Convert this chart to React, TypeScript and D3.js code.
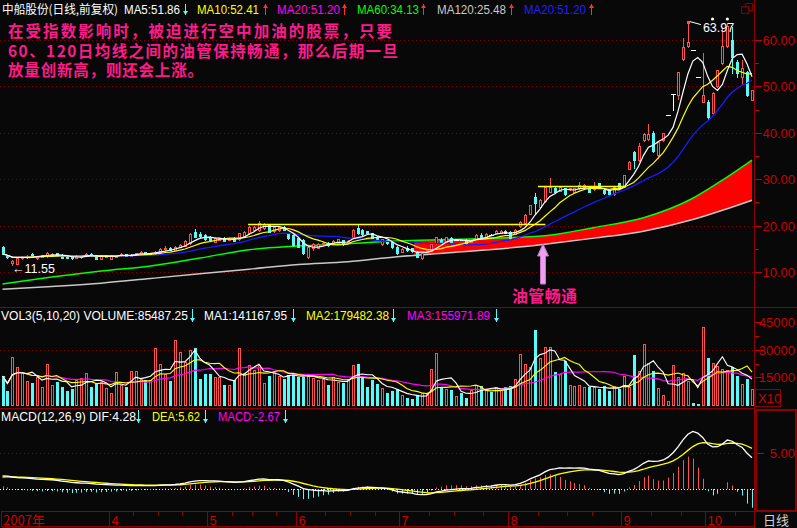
import React from 'react';
import * as d3 from 'd3';

const opens = [15.4,13.5,11.9,11.8,13.0,13.2,13.8,13.0,13.3,13.4,13.6,14.0,13.7,13.2,13.2,13.1,13.2,13.5,13.9,13.6,12.9,13.4,12.8,13.4,13.6,13.8,13.5,13.7,13.9,14.3,13.9,14.0,14.3,14.9,15.2,14.8,15.4,15.7,16.2,18.55,18.2,18.0,17.6,16.5,16.9,17.4,17.0,17.4,17.1,17.8,18.3,19.05,19.05,19.4,20.1,18.8,19.05,19.8,18.3,18.0,17.3,16.9,13.3,15.1,15.25,16.0,16.3,16.2,16.3,16.9,16.5,17.6,19.4,19.05,18.8,18.3,17.6,16.0,16.9,16.5,15.45,14.4,15.25,15.1,14.4,13.1,14.6,14.6,16.2,17.0,16.5,17.4,17.0,17.0,17.0,16.5,17.2,18.0,17.6,18.0,18.5,18.5,18.9,18.7,18.2,19.9,20.5,22.6,26.2,24.1,25.2,27.3,28.0,27.5,28.0,27.8,27.3,28.0,28.3,28.0,27.8,29.1,27.7,27.7,26.8,29.1,28.4,32.3,35.9,34.1,38.4,38.7,40.0,35.2,38.4,43.9,48.3,48.1,55.8,58.6,57.8,52.1,46.7,46.7,44.2,50.0,55.0,58.6,60.0,55.3,52.1,53.2,47.1];
const highs = [15.5,13.6,12.6,13.2,13.5,13.7,14.1,13.4,13.7,14.3,14.0,14.2,13.8,13.3,13.3,13.6,13.5,14.0,14.1,13.7,13.6,13.6,13.7,13.6,14.0,13.9,13.8,14.2,14.6,14.4,14.1,14.5,15.1,15.6,15.3,15.5,16.0,16.8,18.3,19.3,18.7,18.2,17.8,17.5,17.4,17.5,17.2,17.5,18.4,18.8,19.9,20.0,21.0,20.5,20.3,19.9,19.9,20.0,18.5,18.2,17.5,17.1,15.6,16.3,16.2,16.4,16.4,16.9,17.2,17.0,16.8,19.2,20.3,19.2,18.9,18.4,17.7,17.1,17.0,16.6,15.5,15.1,15.5,15.2,14.5,14.1,14.9,16.1,17.6,17.3,17.6,17.5,17.2,17.1,17.1,17.1,18.1,18.3,18.3,18.2,19.0,19.0,19.0,18.8,19.2,20.9,22.4,24.5,27.0,25.7,28.5,30.2,28.3,28.5,28.1,28.1,28.1,29.5,28.9,28.2,29.5,29.2,27.8,27.8,28.5,29.2,31.0,33.9,36.0,37.9,40.0,42.0,40.3,38.2,40.0,43.9,48.3,53.2,60.4,63.97,57.8,52.1,57.2,47.0,48.7,53.6,62.5,63.6,62.9,55.6,55.6,53.4,49.3];
const lows = [13.9,13.1,11.55,11.7,12.9,13.1,13.2,12.8,13.2,13.3,13.5,13.5,13.0,13.0,12.9,13.0,13.1,13.4,13.5,12.8,12.8,13.3,12.7,13.3,13.5,13.4,13.4,13.6,13.8,13.7,13.8,13.9,14.2,14.8,14.7,14.7,15.3,15.6,16.1,17.5,17.6,17.0,16.8,16.4,16.8,16.6,16.9,16.6,17.0,17.7,18.2,18.9,18.9,19.2,18.6,18.7,18.9,19.0,17.2,15.7,15.3,13.9,13.0,14.8,15.1,15.9,15.7,16.1,16.2,15.9,16.4,17.5,18.2,18.0,18.2,17.3,16.8,15.9,16.1,15.2,13.9,14.3,14.6,14.4,13.2,12.8,14.4,14.5,16.1,16.4,16.4,16.4,16.8,16.8,16.1,16.4,17.1,17.5,17.5,17.9,18.4,18.3,18.4,17.2,18.1,19.8,20.4,22.5,22.6,24.0,25.0,27.2,27.2,27.4,26.7,27.7,27.2,27.9,28.2,27.2,27.7,28.2,26.9,26.7,26.7,27.9,28.3,32.2,32.5,34.0,38.2,38.4,35.8,34.6,38.2,43.9,44.9,47.2,55.6,58.5,57.8,52.1,46.7,43.0,44.0,49.8,54.8,58.4,52.8,52.0,50.5,48.0,47.0];
const closes = [13.9,13.3,12.4,13.0,13.3,13.5,13.4,13.3,13.6,14.0,13.9,13.6,13.1,13.1,13.0,13.5,13.4,13.9,13.6,12.9,13.5,13.5,13.6,13.5,13.9,13.5,13.7,14.1,14.4,13.8,14.0,14.4,15.0,15.2,14.8,15.4,15.9,16.7,18.2,17.6,17.8,17.1,16.9,17.4,17.3,16.7,17.1,16.7,18.3,18.7,19.8,19.8,20.5,20.3,18.7,19.8,19.8,19.05,17.3,15.8,15.45,14.0,15.45,16.0,16.0,16.3,15.8,16.75,17.05,16.0,16.7,19.05,18.3,18.1,18.3,17.4,16.9,17.05,16.2,15.3,14.0,15.0,14.7,14.5,13.3,14.0,14.75,16.0,17.5,16.5,17.5,16.5,17.0,16.9,16.2,17.0,18.0,17.6,18.2,18.0,18.9,18.9,18.5,17.3,19.1,20.8,22.3,24.4,24.8,25.5,28.4,28.4,27.3,28.25,26.8,28.0,28.0,28.75,28.75,27.3,28.4,28.3,27.0,26.8,28.4,28.0,30.9,33.8,34.1,37.2,39.7,39.7,36.0,38.0,39.9,43.9,48.3,53.2,58.4,59.6,57.8,52.1,48.1,43.5,48.5,53.5,58.6,63.0,56.4,52.8,53.9,48.1,49.2];
const volumes = [15700,7750,25800,20800,17500,13200,11800,15300,9600,22200,10800,12600,9600,7800,8500,13500,14500,17500,9600,11800,12600,9000,6300,18000,10800,9600,18600,18600,13900,13500,13500,30700,22200,16800,13200,35200,28900,23500,29800,31100,13900,16800,16800,15300,15000,10800,10800,13500,30700,17500,21700,19000,21700,12100,15700,18000,15700,13900,16300,17500,15300,15300,15700,14500,13500,13900,10800,15000,12600,11800,13900,21700,22200,14500,9900,13500,11400,9000,6300,7750,8500,5400,3600,3100,5400,6300,6300,19300,28000,9600,8500,8100,4900,6300,4000,8100,10800,10300,8500,7200,9600,8100,9600,10300,13900,27600,22200,20800,40700,25300,31300,31300,18000,16800,23800,10800,10300,10800,9600,9600,9600,8500,10300,7750,10300,8500,15700,9600,27100,18600,33100,22600,18400,9000,5400,2300,21700,15000,17500,13200,900,500,42400,25300,22900,21100,19300,19000,20800,15700,11400,13900,8500];

// MA60 / MA120 at these candle indices (their history starts before the window)
const maSampleIdx = [0,10,20,30,40,50,60,70,80,90,100,110,120,130,140,146,152];
const ma60Samples = [7.4,8.9,10.2,11.3,13.0,14.8,15.6,16.1,16.7,17.0,17.3,17.8,19.6,21.7,25.9,29.8,34.13];
const ma120Samples = [6.3,6.9,7.6,8.6,9.6,10.6,11.6,12.2,13.3,14.1,14.9,16.0,17.3,18.8,21.3,23.3,25.48];
const pipeStartIdx = 84;

// MACD state just before the first candle (read from the start of the DIF/DEA lines)
const ema12Seed = 11.8;
const ema26Seed = 10.0;
const deaSeed = 1.6;

const priceTicks = [10, 20, 30, 40, 50, 60];
const priceMinorTicks = [15, 25, 35, 45, 55];
const volTicks = [15000, 30000, 45000];
const volMinorTicks = [22500, 37500];
const macdTicks = [5];

const monthIdx = [22, 42, 60, 81, 103, 126, 143];
const monthLabels = ['4', '5', '6', '7', '8', '9', '10'];
const weekTickIdx = [27, 32, 37, 47, 51, 56, 66, 71, 76, 87, 92, 98, 109, 115, 120, 132, 138, 149];

// horizontal annotation lines: [fromIdx, toIdx, price]
const resistanceLines = [[49.8, 110.1, 20.3], [108.6, 126.3, 28.5]];
const dotMarkerIdx = [144, 147];
const lowIdx = 2;
const highIdx = 139;

const noteLines = [
  '在受指数影响时，被迫进行空中加油的股票，只要',
  '60、120日均线之间的油管保持畅通，那么后期一旦',
  '放量创新高，则还会上涨。',
];
const noteWidths = [384, 390, 195];
const pipeLabel = '油管畅通';

const RED = '#ff5050';
const CYAN = '#54fcfc';
const AXIS = '#8b0000';
const LABEL = '#c80000';
const PINK = '#ff1a8c';
const NUMF = '"Liberation Sans", Arial, sans-serif';
const CJKF = '"Noto Sans CJK SC", "Liberation Sans", sans-serif';

function ma(arr: number[], n: number) {
  return arr.map((_, i) => d3.mean(arr.slice(Math.max(0, i - n + 1), i + 1)) as number);
}

function Arrow({ x, y0, y1, color, down }: { x: number; y0: number; y1: number; color: string; down: boolean }) {
  const tip = down ? y1 : y0;
  const base = down ? y1 - 4 : y0 + 4;
  return (
    <g>
      <line x1={x + 0.5} x2={x + 0.5} y1={y0} y2={y1} stroke={color} strokeWidth={1} />
      <path d={`M${x - 2},${base} L${x + 3},${base} L${x + 0.5},${tip} Z`} fill={color} />
    </g>
  );
}

export default function App() {
  const N = closes.length;
  const x = d3.scaleLinear().domain([0, N - 1]).range([2.5, 752]);
  const step = x(1) - x(0);
  const yP = d3.scaleLinear().domain([10, 60]).range([272, 40]);
  const yV = d3.scaleLinear().domain([0, 45000]).range([405, 322]);
  const yM = d3.scaleLinear().domain([0, 5]).range([489, 453]);

  const ma5 = ma(closes, 5), ma10 = ma(closes, 10), ma20 = ma(closes, 20);
  const vma5 = ma(volumes, 5), vma10 = ma(volumes, 10), vma20 = ma(volumes, 20);

  let e12 = ema12Seed, e26 = ema26Seed, dea = deaSeed;
  const difArr: number[] = [], deaArr: number[] = [], histArr: number[] = [];
  closes.forEach((c) => {
    e12 = (2 * c + 11 * e12) / 13;
    e26 = (2 * c + 25 * e26) / 27;
    const d = e12 - e26;
    dea = (2 * d + 8 * dea) / 10;
    difArr.push(d);
    deaArr.push(dea);
    histArr.push(2 * (d - dea));
  });

  const lineOf = (vals: number[], ys: d3.ScaleLinear<number, number>) =>
    d3.line<number>().x((_, i) => x(i)).y((v) => ys(v))(vals) || '';
  const sampledLine = (vals: number[]) =>
    d3.line<number>().x((_, k) => x(maSampleIdx[k])).y((v) => yP(v)).curve(d3.curveMonotoneX)(vals) || '';
  const pipeArea =
    d3.area<number>()
      .x((_, k) => x(maSampleIdx[k]))
      .y0((_, k) => yP(ma120Samples[k]))
      .y1((v) => yP(v))
      .curve(d3.curveMonotoneX)(ma60Samples) || '';

  const candleColor = (i: number) => (closes[i] > opens[i] ? RED : closes[i] < opens[i] ? CYAN : '#ffffff');
  const volColor = (i: number) => {
    if (closes[i] > opens[i]) return RED;
    if (closes[i] < opens[i]) return CYAN;
    return i > 0 && closes[i] >= closes[i - 1] ? RED : CYAN;
  };

  const candles = closes.map((c, i) => {
    const o = opens[i], h = highs[i], l = lows[i];
    const cx = Math.round(x(i));
    const col = candleColor(i);
    const top = Math.round(yP(Math.max(o, c)));
    const bot = Math.round(yP(Math.min(o, c)));
    const yh = Math.round(yP(h)), yl = Math.round(yP(l));
    if (c === o) {
      return (
        <g key={i}>
          <line x1={cx + 0.5} x2={cx + 0.5} y1={yh} y2={yl + 1} stroke={col} />
          <line x1={cx - 2} x2={cx + 3} y1={top + 0.5} y2={top + 0.5} stroke={col} />
        </g>
      );
    }
    if (c > o) {
      return (
        <g key={i}>
          <line x1={cx + 0.5} x2={cx + 0.5} y1={yh} y2={top} stroke={col} />
          <line x1={cx + 0.5} x2={cx + 0.5} y1={bot} y2={yl + 1} stroke={col} />
          <rect x={cx - 0.5} y={top + 0.5} width={2} height={Math.max(1, bot - top)} fill="#080808" stroke={col} />
        </g>
      );
    }
    return (
      <g key={i}>
        <line x1={cx + 0.5} x2={cx + 0.5} y1={yh} y2={yl + 1} stroke={col} />
        <rect x={cx - 1} y={top} width={3} height={Math.max(1, bot - top + 1)} fill={col} />
      </g>
    );
  });

  const volBars = volumes.map((v, i) => {
    const cx = Math.round(x(i));
    const col = volColor(i);
    const top = Math.round(yV(v));
    const bot = 406;
    if (col === RED) {
      return <rect key={i} x={cx - 0.5} y={top + 0.5} width={2} height={Math.max(1, bot - top - 1)} fill="none" stroke={col} />;
    }
    return <rect key={i} x={cx - 1} y={top} width={3} height={Math.max(1, bot - top)} fill={col} />;
  });

  const histBars = histArr.map((m, i) => {
    const cx = Math.round(x(i)) + 0.5;
    return <line key={i} x1={cx} x2={cx} y1={yM(0)} y2={yM(m)} stroke={m >= 0 ? RED : CYAN} strokeWidth={1} />;
  });

  const sepX = (idx: number) => Math.round(x(idx) - step / 2) + 0.5;

  const titleSeg = (t: string, xx: number, w: number, col: string, y: number, key: string) => (
    <text key={key} x={xx} y={y} fill={col} fontSize={12} fontFamily={NUMF} textLength={w} lengthAdjust="spacingAndGlyphs">
      {t}
    </text>
  );

  return (
    <svg width={797} height={528} style={{ position: 'absolute', left: 0, top: 0, display: 'block' }}>
      <defs>
        <clipPath id="cpPrice"><rect x={0} y={0} width={754} height={307} /></clipPath>
        <clipPath id="cpVol"><rect x={0} y={308} width={754} height={100} /></clipPath>
        <clipPath id="cpMacd"><rect x={0} y={409} width={754} height={102} /></clipPath>
        <clipPath id="cpPipe"><rect x={x(pipeStartIdx) - step / 2} y={0} width={754} height={307} /></clipPath>
      </defs>
      <rect x={0} y={0} width={797} height={528} fill="#080808" />

      {/* grid */}
      {priceTicks.map((t) => (
        <line key={'pg' + t} x1={0} x2={754} y1={Math.round(yP(t)) + 0.5} y2={Math.round(yP(t)) + 0.5} stroke="#800000" strokeDasharray="1,3" />
      ))}
      <line x1={0} x2={754} y1={Math.round(yV(30000)) + 0.5} y2={Math.round(yV(30000)) + 0.5} stroke="#800000" strokeDasharray="1,3" />
      {macdTicks.map((t) => (
        <line key={'mg' + t} x1={0} x2={754} y1={Math.round(yM(t)) + 0.5} y2={Math.round(yM(t)) + 0.5} stroke="#800000" strokeDasharray="1,3" />
      ))}

      {/* price panel */}
      <g clipPath="url(#cpPrice)">
        <path d={pipeArea} fill="#ff0000" clipPath="url(#cpPipe)" />
        <path d={sampledLine(ma120Samples)} fill="none" stroke="#c8c8c8" strokeWidth={1.5} />
        <path d={sampledLine(ma60Samples)} fill="none" stroke="#00ff00" strokeWidth={1.5} />
        {candles}
        <path d={lineOf(ma20, yP)} fill="none" stroke="#1a1aff" strokeWidth={1.3} />
        <path d={lineOf(ma10, yP)} fill="none" stroke="#ffff00" strokeWidth={1.2} />
        <path d={lineOf(ma5, yP)} fill="none" stroke="#ffffff" strokeWidth={1.2} />
        {resistanceLines.map(([a, b, p], k) => (
          <line key={'rl' + k} x1={x(a)} x2={x(b)} y1={Math.round(yP(p)) + 0.5} y2={Math.round(yP(p)) + 0.5} stroke="#ffff00" strokeWidth={1.5} />
        ))}
      </g>

      {/* markers */}
      {dotMarkerIdx.map((i) => (
        <circle key={'dm' + i} cx={x(i)} cy={19} r={1.6} fill="#ffffff" />
      ))}
      <rect x={Math.round(x(highIdx)) - 1} y={Math.round(yP(highs[highIdx])) - 1} width={3} height={3} fill={RED} />
      <line x1={x(highIdx) + 2} y1={yP(highs[highIdx])} x2={x(highIdx) + 13} y2={yP(highs[highIdx]) + 3} stroke="#ffffff" />
      <text x={x(highIdx) + 15} y={32} fill="#ffffff" fontSize={12.5} fontFamily={NUMF}>{highs[highIdx].toFixed(2)}</text>
      <text x={12} y={273} fill="#ffffff" fontSize={12.5} fontFamily={NUMF}>←{lows[lowIdx].toFixed(2)}</text>

      {/* title */}
      <text x={2} y={14} fill="#ffffff" fontSize={12} fontFamily={CJKF} textLength={116} lengthAdjust="spacingAndGlyphs">中船股份(日线,前复权)</text>
      {titleSeg('MA5:51.86', 124, 56, '#ffffff', 14, 't1')}
      <Arrow x={185} y0={4} y1={15} color={CYAN} down />
      {titleSeg('MA10:52.41', 197, 62, '#ffff00', 14, 't2')}
      <Arrow x={265} y0={4} y1={15} color="#ff3030" down={false} />
      {titleSeg('MA20:51.20', 277, 63, '#ff00ff', 14, 't3')}
      <Arrow x={344} y0={4} y1={15} color="#ff3030" down={false} />
      {titleSeg('MA60:34.13', 357, 62, '#00ff00', 14, 't4')}
      <Arrow x={423} y0={4} y1={15} color="#ff3030" down={false} />
      {titleSeg('MA120:25.48', 437, 69, '#c8c8c8', 14, 't5')}
      <Arrow x={511} y0={4} y1={15} color="#ff3030" down={false} />
      {titleSeg('MA20:51.20', 524, 62, '#2020ff', 14, 't6')}
      <Arrow x={591} y0={4} y1={15} color="#ff3030" down={false} />
      <rect x={745.5} y={3.5} width={7} height={7} fill="none" stroke="#800000" />
      <rect x={741.5} y={6.5} width={7} height={7} fill="#080808" stroke="#800000" />

      {/* notes */}
      {noteLines.map((t, k) => (
        <text key={'n' + k} x={8} y={37 + k * 19.5} fill={PINK} fontSize={15.5} fontWeight="bold" fontFamily={CJKF}
          textLength={noteWidths[k]} lengthAdjust="spacing">
          {t}
        </text>
      ))}
      <path d="M543,244 L548.5,256 L545.5,256 L545.5,284 L540.5,284 L540.5,256 L537.5,256 Z" fill="#e9a3e9" stroke="#d070d0" strokeWidth={1} />
      <text x={512} y={302} fill={PINK} fontSize={16} fontWeight="bold" fontFamily={CJKF} textLength={65} lengthAdjust="spacing">{pipeLabel}</text>

      {/* volume panel */}
      <line x1={0} x2={797} y1={307.5} y2={307.5} stroke={AXIS} />
      {titleSeg('VOL3(5,10,20) VOLUME:85487.25', 1, 187, '#ffffff', 320, 'v1')}
      <Arrow x={192} y0={309} y1={322} color={CYAN} down />
      {titleSeg('MA1:141167.95', 204, 83, '#ffffff', 320, 'v2')}
      <Arrow x={293} y0={309} y1={322} color={CYAN} down />
      {titleSeg('MA2:179482.38', 306, 83, '#ffff00', 320, 'v3')}
      <Arrow x={393} y0={309} y1={322} color={CYAN} down />
      {titleSeg('MA3:155971.89', 407, 83, '#ff00ff', 320, 'v4')}
      <Arrow x={496} y0={309} y1={322} color={CYAN} down />
      <g clipPath="url(#cpVol)">
        {volBars}
        <path d={lineOf(vma20, yV)} fill="none" stroke="#ff00ff" strokeWidth={1.2} />
        <path d={lineOf(vma10, yV)} fill="none" stroke="#ffff00" strokeWidth={1.1} />
        <path d={lineOf(vma5, yV)} fill="none" stroke="#ffffff" strokeWidth={1.1} />
      </g>
      <line x1={0} x2={754} y1={408.5} y2={408.5} stroke={AXIS} />
      <rect x={755.5} y={389.5} width={25} height={17} fill="none" stroke={AXIS} />
      <text x={758} y={403} fill={LABEL} fontSize={13} fontFamily={NUMF}>X10</text>

      {/* macd panel */}
      {titleSeg('MACD(12,26,9) DIF:4.28', 1, 135, '#ffffff', 421, 'm1')}
      <Arrow x={138} y0={410} y1={423} color={CYAN} down />
      {titleSeg('DEA:5.62', 152, 48, '#ffff00', 421, 'm2')}
      <Arrow x={205} y0={410} y1={423} color={CYAN} down />
      {titleSeg('MACD:-2.67', 218, 62, '#ff00ff', 421, 'm3')}
      <Arrow x={285} y0={410} y1={423} color={CYAN} down />
      <g clipPath="url(#cpMacd)">
        <line x1={0} x2={754} y1={489.5} y2={489.5} stroke="#ffffff" strokeDasharray="1,2" />
        {histBars}
        <path d={lineOf(deaArr, yM)} fill="none" stroke="#ffff00" strokeWidth={1.3} />
        <path d={lineOf(difArr, yM)} fill="none" stroke="#ffffff" strokeWidth={1.3} />
      </g>
      <rect x={756} y={410} width={40} height={101} fill="none" stroke={AXIS} strokeWidth={2} />

      {/* right axis */}
      <line x1={754.5} x2={754.5} y1={0} y2={528} stroke={AXIS} />
      {priceTicks.map((t) => (
        <g key={'pt' + t}>
          <line x1={755} x2={762} y1={Math.round(yP(t)) + 0.5} y2={Math.round(yP(t)) + 0.5} stroke={LABEL} />
          <text x={795} y={yP(t) + 5} fill={LABEL} fontSize={13} fontFamily={NUMF} textAnchor="end">{t.toFixed(2)}</text>
        </g>
      ))}
      {priceMinorTicks.map((t) => (
        <line key={'pm' + t} x1={755} x2={759} y1={Math.round(yP(t)) + 0.5} y2={Math.round(yP(t)) + 0.5} stroke={LABEL} />
      ))}
      {volTicks.map((t) => (
        <g key={'vt' + t}>
          <line x1={755} x2={762} y1={Math.round(yV(t)) + 0.5} y2={Math.round(yV(t)) + 0.5} stroke={LABEL} />
          <text x={795} y={yV(t) + 5} fill={LABEL} fontSize={13} fontFamily={NUMF} textAnchor="end">{t}</text>
        </g>
      ))}
      {volMinorTicks.map((t) => (
        <line key={'vm' + t} x1={755} x2={759} y1={Math.round(yV(t)) + 0.5} y2={Math.round(yV(t)) + 0.5} stroke={LABEL} />
      ))}
      {macdTicks.map((t) => (
        <g key={'mt' + t}>
          <line x1={757} x2={764} y1={Math.round(yM(t)) + 0.5} y2={Math.round(yM(t)) + 0.5} stroke={LABEL} />
          <text x={795} y={yM(t) + 5} fill={LABEL} fontSize={13} fontFamily={NUMF} textAnchor="end">{t.toFixed(2)}</text>
        </g>
      ))}

      {/* date axis */}
      <rect x={1.5} y={511.5} width={753} height={15} fill="none" stroke={AXIS} />
      <line x1={754} x2={797} y1={511.5} y2={511.5} stroke={AXIS} />
      <text x={3} y={525} fill={LABEL} fontSize={13} fontFamily={CJKF}>2007年</text>
      {monthIdx.map((idx, k) => (
        <g key={'mo' + k}>
          <line x1={sepX(idx)} x2={sepX(idx)} y1={512} y2={527} stroke={AXIS} />
          <text x={sepX(idx) + 2} y={525} fill={LABEL} fontSize={13} fontFamily={NUMF}>{monthLabels[k]}</text>
        </g>
      ))}
      {weekTickIdx.map((idx) => (
        <line key={'wk' + idx} x1={sepX(idx)} x2={sepX(idx)} y1={512} y2={516} stroke={AXIS} />
      ))}
      <text x={776} y={525} fill="#d0d0d0" fontSize={13} fontFamily={CJKF} textAnchor="middle">日线</text>
    </svg>
  );
}
